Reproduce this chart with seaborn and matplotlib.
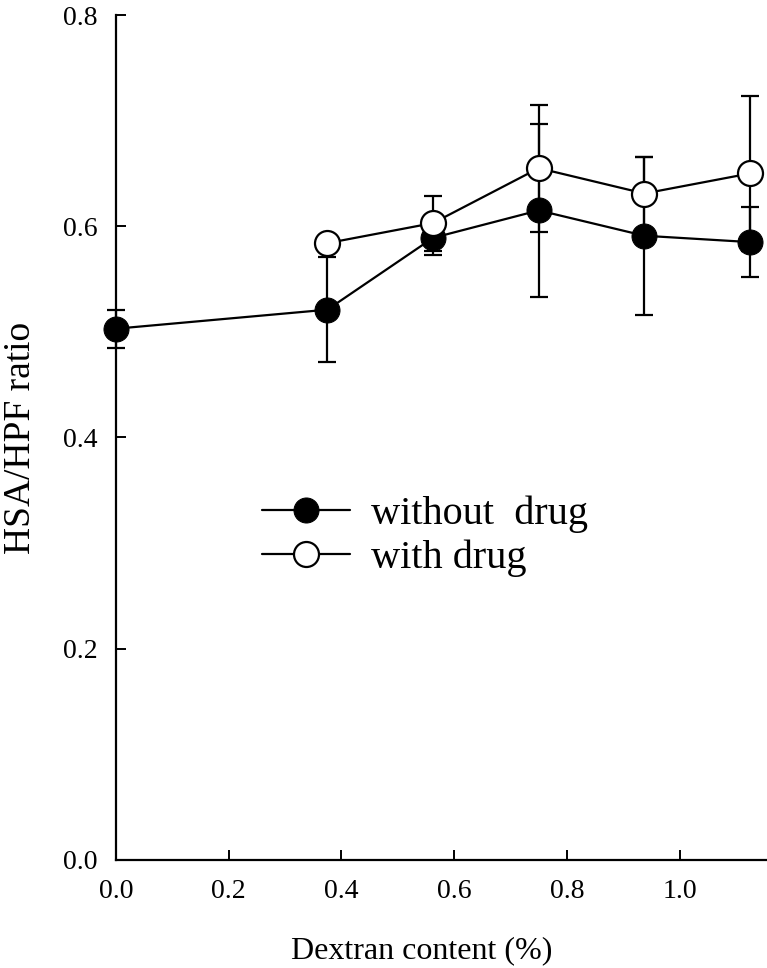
import pandas as pd
import matplotlib
matplotlib.use('Agg')
import matplotlib.pyplot as plt
import seaborn as sns

# data
dextran = [0.0, 0.375, 0.5625, 0.75, 0.9375, 1.125]
ratio_without = [0.503, 0.521, 0.589, 0.615, 0.591, 0.585]
err_without = [0.018, 0.050, 0.016, 0.082, 0.075, 0.033]
dextran_with = [0.375, 0.5625, 0.75, 0.9375, 1.125]
ratio_with = [0.584, 0.603, 0.655, 0.631, 0.650]
err_with = [0.0, 0.026, 0.060, 0.035, 0.073]

df = pd.concat([
    pd.DataFrame({'dextran': dextran, 'ratio': ratio_without, 'err': err_without, 'group': 'without  drug'}),
    pd.DataFrame({'dextran': dextran_with, 'ratio': ratio_with, 'err': err_with, 'group': 'with drug'}),
])

sns.set_style('ticks')
plt.rcParams['font.family'] = ['Liberation Serif', 'DejaVu Serif']
plt.rcParams['text.color'] = 'black'
plt.rcParams['axes.labelcolor'] = 'black'

fig = plt.figure(figsize=(7.67, 9.68), dpi=100)
ax = fig.add_axes([0.1512, 0.1116, 0.8488, 0.8729])

# error bars first, then lines + markers on top
for g, sub in df.groupby('group', sort=False):
    eb = ax.errorbar(sub['dextran'], sub['ratio'], yerr=sub['err'], fmt='none',
                     ecolor='black', elinewidth=1.6, capsize=6.5, capthick=1.6, zorder=2)
    for art in eb.lines[1] + eb.lines[2]:
        art.set_clip_on(False)

sns.lineplot(data=df, x='dextran', y='ratio', hue='group', style='group',
             palette=['black', 'black'], markers=['o', 'o'], dashes=False,
             linewidth=1.6, markersize=18, ax=ax, legend=False, zorder=3)

# fix marker faces: filled for without, open for with
lines = ax.get_lines()[-2:]
lines[0].set_markerfacecolor('black')
lines[0].set_markeredgecolor('black')
lines[1].set_markerfacecolor('white')
lines[1].set_markeredgecolor('black')
lines[1].set_markeredgewidth(1.6)
lines[1].set_zorder(4)
for ln in lines:
    ln.set_clip_on(False)

ax.set_xlim(0, 1.155)
ax.set_ylim(0, 0.8)
ax.set_xticks([0.0, 0.2, 0.4, 0.6, 0.8, 1.0])
ax.set_yticks([0.0, 0.2, 0.4, 0.6, 0.8])
ax.set_xticklabels(['0.0', '0.2', '0.4', '0.6', '0.8', '1.0'])
ax.set_yticklabels(['0.0', '0.2', '0.4', '0.6', '0.8'])
ax.tick_params(direction='in', length=7, width=1.4, labelsize=20, colors='black')
ax.tick_params(axis='x', pad=14)
ax.tick_params(axis='y', pad=13)
for s in ['left', 'bottom']:
    ax.spines[s].set_linewidth(1.6)
    ax.spines[s].set_color('black')
sns.despine(ax=ax)

ax.set_xlabel('Dextran content (%)', fontsize=23)
ax.set_ylabel('HSA/HPF ratio', fontsize=27)
ax.xaxis.set_label_coords(0.47, -0.09)
ax.yaxis.set_label_coords(-0.12, 0.5)

leg = ax.legend(handles=lines, labels=['without  drug', 'with drug'],
                loc='center left', bbox_to_anchor=(0.224, 0.383), frameon=False,
                fontsize=29, handlelength=2.2, handletextpad=0.5, labelspacing=0.15,
                borderpad=0, borderaxespad=0)

fig.savefig('out.png', dpi=100)
